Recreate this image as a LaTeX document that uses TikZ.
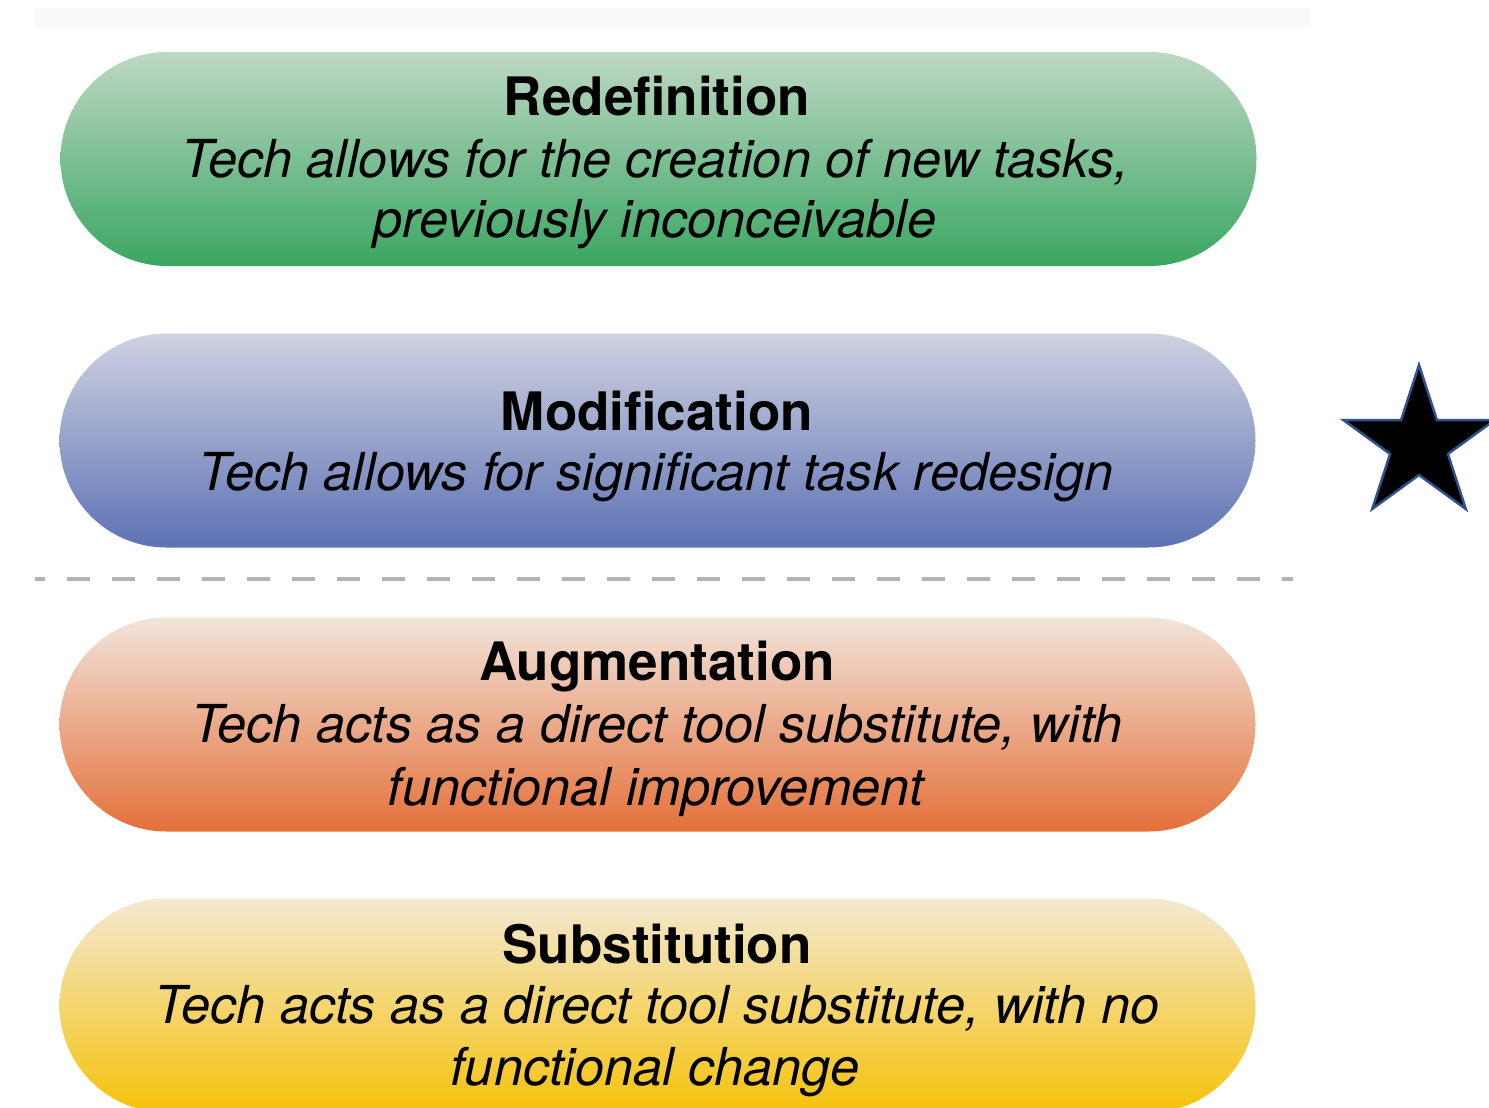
\documentclass[tikz,border=0pt]{standalone}
\usepackage{fontspec}
\setmainfont{TeX Gyre Heros}
\usetikzlibrary{shapes.misc}
\definecolor{gtop}{RGB}{190,216,196}
\definecolor{gbot}{RGB}{58,166,98}
\definecolor{btop}{RGB}{206,210,225}
\definecolor{bbot}{RGB}{93,114,180}
\definecolor{otop}{RGB}{242,228,218}
\definecolor{obot}{RGB}{228,112,58}
\definecolor{ytop}{RGB}{244,232,210}
\definecolor{ybot}{RGB}{245,194,10}
\definecolor{dashgray}{RGB}{178,178,178}
\definecolor{staredge}{RGB}{47,82,143}
\definecolor{bandgray}{RGB}{249,249,249}
\tikzset{
  pill/.style={rounded rectangle, draw=none, inner sep=0pt, outer sep=0pt,
    minimum width=1196pt, minimum height=214pt},
  titletext/.style={anchor=base, inner sep=0pt, font=\fontsize{53}{60}\selectfont\bfseries},
  desctext/.style={anchor=base, inner sep=0pt, font=\fontsize{52.3}{60}\selectfont\itshape},
  sepline/.style={draw=dashgray, line width=4pt, dash pattern=on 23pt off 22pt, dash phase=13pt},
  starstyle/.style={fill=black, draw=staredge, line width=2.5pt, line join=miter}
}
\begin{document}
\begin{tikzpicture}[x=1pt,y=1pt]
\useasboundingbox (0,0) rectangle (1489,-1108);
\clip (0,0) rectangle (1489,-1108);
\fill[white] (0,0) rectangle (1489,-1108);
% faint top band
\fill[bandgray] (35,-8) rectangle (1310,-28);
% pills
\node[pill, top color=gtop, bottom color=gbot] (redef) at (658.5,-159) {};
\node[pill, top color=btop, bottom color=bbot] (modif) at (657.5,-440.5) {};
\node[pill, top color=otop, bottom color=obot] (augm) at (657.5,-724.5) {};
\node[pill, top color=ytop, bottom color=ybot] (subst) at (657.5,-1005.5) {};
% dashed separator
\coordinate (dl) at (35,-579);
\coordinate (dr) at (1293,-579);
\draw[sepline] (dl) -- (dr);
% texts
\node[titletext] (t1) at (657,-115) {Redefinition};
\node[desctext] (d1a) at (655,-177) {Tech allows for the creation of new tasks,};
\node[desctext] (d1b) at (655,-237) {previously inconceivable};
\node[titletext] (t2) at (657,-430) {Modification};
\node[desctext] (d2a) at (656,-490) {Tech allows for significant task redesign};
\node[titletext] (t3) at (657,-680) {Augmentation};
\node[desctext] (d3a) at (657,-742) {Tech acts as a direct tool substitute, with};
\node[desctext] (d3b) at (656,-805) {functional improvement};
\node[titletext] (t4) at (657,-963) {Substitution};
\node[desctext] (d4a) at (657,-1023) {Tech acts as a direct tool substitute, with no};
\node[desctext] (d4b) at (655,-1085) {functional change};
% star
\begin{scope}[shift={(1419,-444.6)}]
\draw[starstyle] (90:79.6) -- (54:30.4) -- (18:79.6) -- (342:30.4) -- (306:79.6)
  -- (270:30.4) -- (234:79.6) -- (198:30.4) -- (162:79.6) -- (126:30.4) -- cycle;
\end{scope}
\end{tikzpicture}
\end{document}
